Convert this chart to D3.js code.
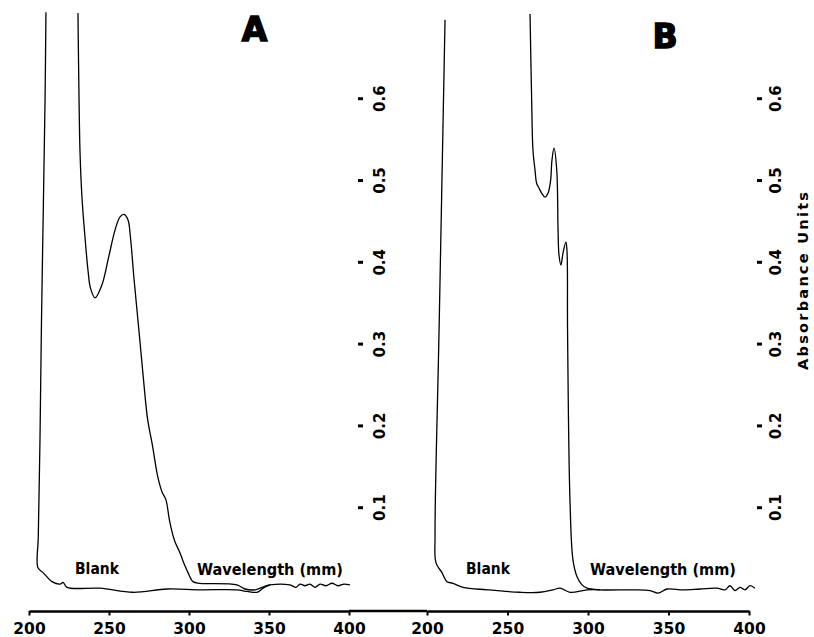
<!DOCTYPE html>
<html><head><meta charset="utf-8">
<script src="https://cdn.jsdelivr.net/npm/d3@7"></script>
<style>
html,body{margin:0;padding:0;background:#fff;}
svg{display:block;}
text{font-family:"DejaVu Sans",sans-serif;font-weight:bold;fill:#000;}
</style></head>
<body>
<svg id="c" width="814" height="637"></svg>
<script>
// ---- data ----
const xTicks = [200, 250, 300, 350, 400];
const yTicks = [0.1, 0.2, 0.3, 0.4, 0.5, 0.6];

const sampleA_wl  = [230.6,231.3,231.9,233.1,235.0,236.9,238.4,241.3,245.6,249.7,253.8,256.9,259.4,261.9,263.4,265.6,268.8,271.9,274.1,277.2,280.4,283.1,285.6,287.8,291.0,294.2,296.3,299.4,302.5,306.9,330.0,335.0,341.3,345.6,350.6,363.1,366.9,369.4,372.5,375.6,378.8,381.9,385.6,389.4,393.1,396.9,400.6];
const sampleA_abs = [0.704,0.595,0.533,0.479,0.430,0.389,0.368,0.356,0.372,0.405,0.439,0.455,0.458,0.451,0.430,0.380,0.314,0.249,0.208,0.175,0.138,0.119,0.109,0.084,0.059,0.045,0.034,0.020,0.009,0.007,0.005,0.000,-0.001,0.002,0.005,0.005,0.002,0.006,0.004,0.006,0.002,0.006,0.004,0.007,0.004,0.006,0.005];

const blankA_wl  = [210.6,210.0,209.0,207.8,206.9,205.8,205.6,208.8,214.4,219.4,221.3,223.8,244.4,265.0,286.3,306.9,330.0,336.3,342.5,346.3,350.6];
const blankA_abs = [0.705,0.594,0.472,0.326,0.187,0.064,0.026,0.020,0.009,0.006,0.008,0.002,0.001,-0.004,0.000,-0.001,-0.001,-0.003,-0.004,0.001,0.005];

const sampleB_wl  = [264.0,265.0,265.8,267.1,268.1,269.6,271.2,273.3,275.2,276.8,277.6,278.9,280.6,281.4,282.0,283.2,284.5,286.3,287.0,287.3,288.8,290.7,293.2,296.3,299.4,307.5,328.0,338.5,343.5,349.1,359.0,369.6,380.1,385.1,388.2,391.3,394.4,397.5,400.6,403.7];
const sampleB_abs = [0.703,0.598,0.537,0.512,0.496,0.490,0.484,0.479,0.484,0.500,0.524,0.539,0.512,0.439,0.408,0.396,0.411,0.424,0.411,0.317,0.109,0.035,0.015,0.005,0.001,-0.001,-0.001,-0.002,-0.005,0.000,-0.001,0.000,0.001,-0.001,0.004,-0.002,0.002,-0.001,0.004,0.001];

const blankB_wl  = [211.2,207.5,205.0,205.6,209.3,212.4,216.1,222.4,237.3,257.8,270.2,278.3,282.6,288.8,299.4,307.5];
const blankB_abs = [0.696,0.317,0.067,0.032,0.020,0.009,0.007,0.002,-0.001,-0.004,-0.004,-0.001,0.001,-0.004,-0.001,-0.001];

const panelTitles = ["A", "B"];
const blankLabel = "Blank";
const xLabel = "Wavelength (mm)";
const yLabel = "Absorbance Units";

// ---- layout ----
const svg = d3.select("#c");
const axisY = 611;
const y = d3.scaleLinear().domain([0, 0.7]).range([589, 589 - 0.7 * 818]);
const xA = d3.scaleLinear().domain([200, 400]).range([29, 349]);
const xB = d3.scaleLinear().domain([200, 400]).range([427, 749]);

const panels = [
  {x: xA, sample: [sampleA_wl, sampleA_abs], blank: [blankA_wl, blankA_abs], title: panelTitles[0],
   titleX: 254.5, titleY: 41, tickX: 358, labX: 380, blankX: 75, wlX: 197},
  {x: xB, sample: [sampleB_wl, sampleB_abs], blank: [blankB_wl, blankB_abs], title: panelTitles[1],
   titleX: 665, titleY: 48, tickX: 757, labX: 776, blankX: 466, wlX: 590}
];

// connecting baseline between panels
svg.append("line")
  .attr("x1", xA(400)).attr("x2", xB(200))
  .attr("y1", axisY).attr("y2", axisY)
  .attr("stroke", "#000").attr("stroke-width", 2.5);

panels.forEach(p => {
  // x axis
  const gx = svg.append("g").attr("transform", `translate(0,${axisY})`)
    .call(d3.axisBottom(p.x).tickValues(xTicks).tickSize(4.5).tickSizeOuter(0).tickPadding(7).tickFormat(d3.format("d")));
  gx.select(".domain").attr("stroke", "#000").attr("stroke-width", 2.5);
  gx.selectAll(".tick line").attr("stroke", "#000").attr("stroke-width", 2);
  gx.selectAll(".tick text").style("font-size", "15.5px").style("font-family", "DejaVu Sans").style("font-weight", "bold");

  // y axis (rotated labels)
  const gy = svg.append("g").attr("transform", `translate(${p.tickX},0)`)
    .call(d3.axisRight(y).tickValues(yTicks).tickSize(5).tickFormat(d3.format(".1f")));
  gy.select(".domain").remove();
  gy.selectAll(".tick line").attr("stroke", "#000").attr("stroke-width", 3);
  gy.selectAll(".tick text")
    .attr("x", 0).attr("y", 0).attr("dy", "0.36em")
    .attr("text-anchor", "middle")
    .attr("transform", `translate(${p.labX - p.tickX},0) rotate(-90)`)
    .style("font-size", "15px").style("font-family", "DejaVu Sans").style("font-weight", "bold");

  // curves
  const line = d3.line().x(d => p.x(d[0])).y(d => y(d[1])).curve(d3.curveCatmullRom.alpha(0.5));
  [p.blank, p.sample].forEach(s => {
    const pts = s[0].map((w, i) => [w, s[1][i]]);
    svg.append("path").datum(pts).attr("d", line)
      .attr("fill", "none").attr("stroke", "#000").attr("stroke-width", 1.3);
  });

  // texts
  svg.append("text").attr("x", p.blankX).attr("y", 574).text(blankLabel)
    .style("font-size", "15px").attr("textLength", 44).attr("lengthAdjust", "spacingAndGlyphs");
  svg.append("text").attr("x", p.wlX).attr("y", 575).text(xLabel)
    .style("font-size", "15px").attr("textLength", 146).attr("lengthAdjust", "spacingAndGlyphs");
  svg.append("text").attr("x", p.titleX).attr("y", p.titleY).attr("text-anchor", "middle")
    .text(p.title).style("font-size", "33px").style("stroke", "#000").style("stroke-width", 1.5);
});

svg.append("text")
  .attr("transform", `translate(808,281) rotate(-90)`)
  .attr("text-anchor", "middle")
  .style("font-size", "14.5px")
  .attr("textLength", 178).attr("lengthAdjust", "spacing")
  .text(yLabel);
</script>
</body></html>
